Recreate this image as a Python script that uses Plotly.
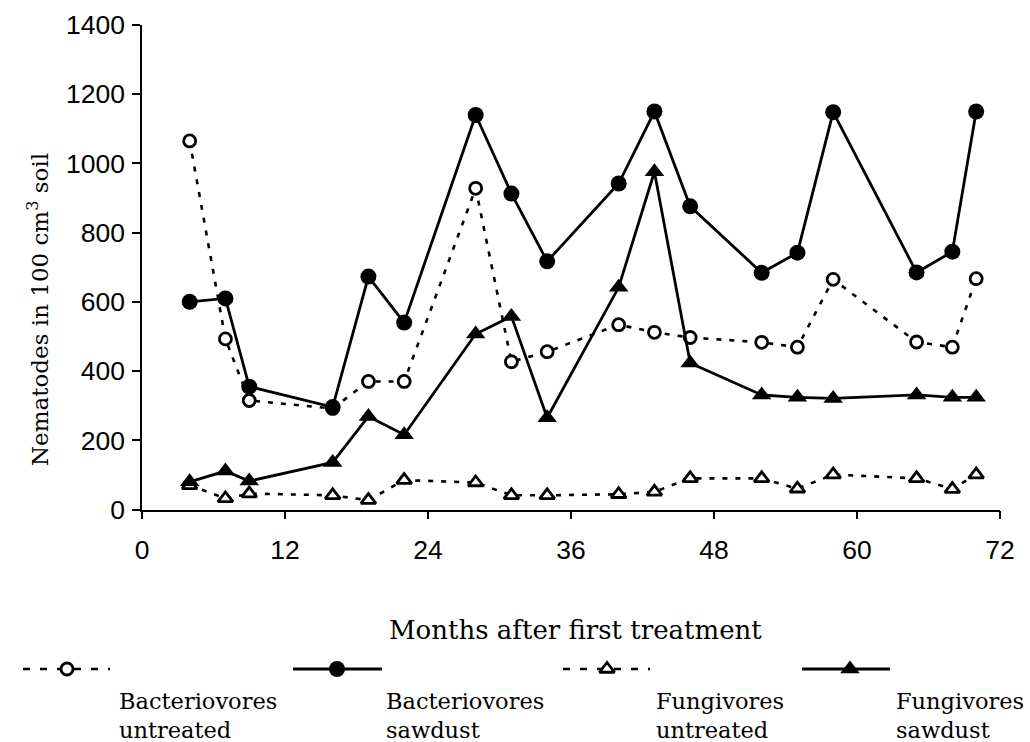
import plotly.graph_objects as go

# ---------------- data ----------------
months = [4, 7, 9, 16, 19, 22, 28, 31, 34, 40, 43, 46, 52, 55, 58, 65, 68, 70]
bact_untreated = [1065, 493, 315, 292, 370, 370, 928, 427, 456, 534, 512, 497, 483, 469, 665, 484, 469, 667]
bact_sawdust = [600, 610, 355, 296, 673, 540, 1140, 913, 717, 942, 1150, 876, 684, 742, 1148, 685, 745, 1150]
fung_untreated = [70, 32, 46, 41, 27, 85, 78, 41, 41, 44, 51, 90, 90, 60, 101, 90, 59, 101]
fung_sawdust = [80, 111, 82, 136, 269, 216, 507, 558, 265, 642, 976, 423, 331, 324, 321, 331, 324, 324]

series_names = ["Bacteriovores untreated", "Bacteriovores sawdust",
                "Fungivores untreated", "Fungivores sawdust"]
x_ticks = [0, 12, 24, 36, 48, 60, 72]
y_ticks = [0, 200, 400, 600, 800, 1000, 1200, 1400]

# ---------------- layout helpers ----------------
FIG_W, FIG_H = 1030, 742
PL, PR, PT, PB = 142, 1000, 25, 509.5

def fx(px):
    return px / FIG_W

def fy(py):
    return 1 - py / FIG_H

SERIF = "DejaVu Serif"
SANS = "Liberation Sans Narrow, Liberation Sans, Arial"

styles = [
    dict(dash="5px,8px", lw=2.6, symbol="circle", fill="white", size=12, mlw=2.8),
    dict(dash="solid", lw=2.8, symbol="circle", fill="black", size=16, mlw=0),
    dict(dash="5px,8px", lw=2.6, symbol="triangle-up", fill="white", size=13, mlw=2.8),
    dict(dash="solid", lw=2.8, symbol="triangle-up", fill="black", size=17, mlw=0),
]
values = [bact_untreated, bact_sawdust, fung_untreated, fung_sawdust]

fig = go.Figure()
for name, vals, st in zip(series_names, values, styles):
    fig.add_trace(go.Scatter(
        x=months, y=vals, name=name, mode="lines+markers",
        line=dict(color="black", width=st["lw"], dash=st["dash"]),
        marker=dict(symbol=st["symbol"], size=st["size"], color=st["fill"],
                    line=dict(color="black", width=st["mlw"])),
        cliponaxis=False, showlegend=False,
    ))

# ---------------- custom legend (pixel overlay axis) ----------------
leg_row_y = 669
leg_line_x = [(23, 110), (293, 382), (563, 650), (802, 890)]
leg_marker_x = [67, 337, 607, 850]
leg_text_x = [117, 384, 654, 894]
leg_text_l1 = ["Bacteriovores", "Bacteriovores", "Fungivores", "Fungivores"]
leg_text_l2 = ["untreated", "sawdust", "untreated", "sawdust"]

for (x0, x1), mx, st in zip(leg_line_x, leg_marker_x, styles):
    fig.add_trace(go.Scatter(
        x=[x0, x1], y=[leg_row_y, leg_row_y], mode="lines",
        line=dict(color="black", width=st["lw"],
                  dash=("7px,10px" if st["dash"] != "solid" else "solid")),
        xaxis="x2", yaxis="y2", showlegend=False, hoverinfo="skip", cliponaxis=False,
    ))
    fig.add_trace(go.Scatter(
        x=[mx], y=[leg_row_y], mode="markers",
        marker=dict(symbol=st["symbol"], size=st["size"], color=st["fill"],
                    line=dict(color="black", width=st["mlw"])),
        xaxis="x2", yaxis="y2", showlegend=False, hoverinfo="skip", cliponaxis=False,
    ))

annotations = []
for tx, l1, l2 in zip(leg_text_x, leg_text_l1, leg_text_l2):
    annotations.append(dict(x=fx(tx), y=fy(715), xref="paper", yref="paper",
                            text=l1 + "<br>" + l2, showarrow=False, align="left",
                            xanchor="left", yanchor="middle",
                            font=dict(family=SERIF, size=22.5, color="black")))

annotations.append(dict(x=fx(575), y=fy(630), xref="paper", yref="paper",
                        text="Months after first treatment", showarrow=False,
                        xanchor="center", yanchor="middle",
                        font=dict(family=SERIF, size=26, color="black")))
annotations.append(dict(x=fx(38), y=fy(310), xref="paper", yref="paper",
                        text="Nematodes in 100 cm<sup>3</sup> soil", showarrow=False,
                        textangle=-90, xanchor="center", yanchor="middle",
                        font=dict(family=SERIF, size=23, color="black")))

fig.update_layout(
    width=FIG_W, height=FIG_H,
    margin=dict(l=0, r=0, t=0, b=0, autoexpand=False),
    paper_bgcolor="white", plot_bgcolor="rgba(0,0,0,0)",
    showlegend=False,
    xaxis=dict(domain=[fx(PL), fx(PR)], range=[0, 72], tickvals=x_ticks,
               ticktext=[str(v) for v in x_ticks], automargin=False,
               showgrid=False, zeroline=False, showline=True, linecolor="black",
               linewidth=1.6, ticks="outside", ticklen=8, tickwidth=1.6, tickcolor="black",
               ticklabelstandoff=8,
               tickfont=dict(family=SANS, size=26.5, color="black"), anchor="y"),
    yaxis=dict(domain=[fy(PB), fy(PT)], range=[0, 1400], tickvals=y_ticks,
               ticktext=[str(v) for v in y_ticks], automargin=False,
               showgrid=False, zeroline=False, showline=True, linecolor="black",
               linewidth=1.6, ticks="outside", ticklen=8, tickwidth=1.6, tickcolor="black",
               ticklabelstandoff=2,
               tickfont=dict(family=SANS, size=26.5, color="black"), anchor="x"),
    xaxis2=dict(domain=[0, 1], range=[0, FIG_W], visible=False, anchor="y2",
                automargin=False, fixedrange=True, showgrid=False, zeroline=False),
    yaxis2=dict(domain=[0, 1], range=[FIG_H, 0], visible=False, anchor="x2",
                automargin=False, fixedrange=True, showgrid=False, zeroline=False),
    annotations=annotations,
)

fig.write_html("out.html")
